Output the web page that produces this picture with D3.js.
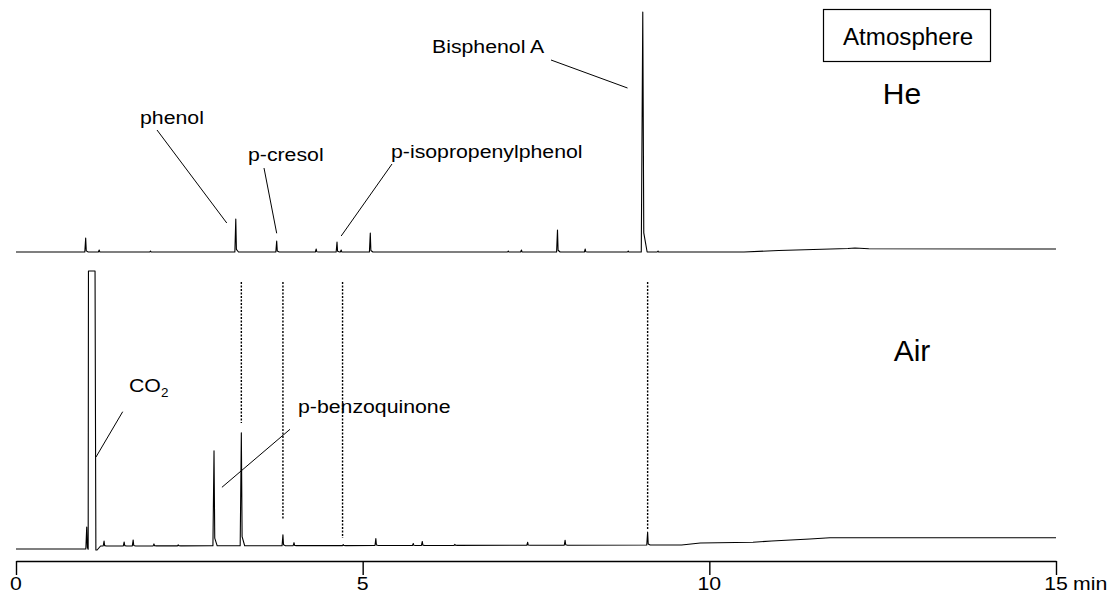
<!DOCTYPE html>
<html>
<head>
<meta charset="utf-8">
<script src="https://cdn.jsdelivr.net/npm/d3@7"></script>
<style>
  body { margin: 0; background: #fff; }
  svg { display: block; }
  text { font-family: "Liberation Sans", Arial, sans-serif; fill: #000; }
</style>
</head>
<body>
<div id="chart"></div>
<script>
// retention time axis (min)
var tickValues = [0, 5, 10, 15];
var tickLabels = ["0", "5", "10", "15"];

// He trace: baseline knots and peaks (time, height)
var heBaseT = [0, 9.6, 10.5, 11.0, 11.5, 12.0, 12.1, 12.3, 15];
var heBaseV = [0, 0, 0, 1.5, 2.5, 3.5, 4, 3.3, 3];
var hePeakT = [1.005, 1.20, 1.94, 3.17, 3.76, 4.33, 4.63, 4.69, 5.11, 7.10, 7.29, 7.81, 8.21, 8.83, 9.04, 9.26];
var hePeakH = [14, 2, 1, 33, 11, 3, 10, 2, 19, 1, 2, 22, 3, 1, 240, 1];

// Air trace
var airBaseT = [0, 1.0, 1.17, 1.22, 9.6, 9.87, 10.63, 10.9, 11.45, 11.74, 15];
var airBaseV = [0, 0, -1, 3, 4, 6, 6.7, 8, 10, 11.3, 11.3];
var airPeakT = [1.02, 1.27, 1.56, 1.69, 1.99, 2.34, 2.856, 3.25, 3.85, 4.01, 4.72, 5.19, 5.73, 5.86, 6.33, 7.38, 7.92, 9.11];
var airPeakH = [22, 5, 4, 6, 2, 1, 95, 113, 11, 3, 1, 7, 2, 4, 1, 3, 5, 13];
// saturated CO2 peak (start, end, clipped height)
var co2 = [1.045, 1.14, 278];

// dotted guides from He peaks down to Air peaks
var guideT = [3.25, 3.85, 4.71, 9.11];
var guideBottom = [126, 29, 11, 19];
var guideTop = 267;

var width = 1112, height = 593;

var svg = d3.select("#chart").append("svg")
    .attr("width", width)
    .attr("height", height);

var x = d3.scaleLinear().domain([0, 15]).range([16, 1056]);
var heY = d3.scaleLinear().domain([0, 240]).range([252, 12]);
var airY = d3.scaleLinear().domain([0, 278]).range([549, 271]);

function buildTrace(baseT, baseV, peakT, peakH, block) {
  var base = d3.scaleLinear().domain(baseT).range(baseV);
  var pts = [], wins = [];
  var bA = block ? block[0] - 0.004 : null, bB = block ? block[1] + 0.012 : null;
  peakT.forEach(function(t, i) {
    var h = peakH[i], k = 1 + h / 300;
    var l = t - 0.012 * k, r = t + 0.035 * k;
    if (block && r > bA && t < bA) r = bA - 0.001;
    wins.push([l, r]);
    pts.push([l, base(l)], [t, base(t) + h], [Math.min(t + 0.008 * k, r), base(t) + h * 0.08], [r, base(r)]);
  });
  if (block) {
    wins.push([bA, bB]);
    pts.push([bA, base(bA)], [block[0], block[2]], [block[1], block[2]], [bB, base(bB)]);
  }
  baseT.forEach(function(t, i) {
    var inside = wins.some(function(w) { return t > w[0] && t < w[1]; });
    if (!inside) pts.push([t, baseV[i]]);
  });
  pts.sort(function(p, q) { return p[0] - q[0]; });
  return pts;
}

var heLine = d3.line().x(function(d) { return x(d[0]); }).y(function(d) { return heY(d[1]); });
var airLine = d3.line().x(function(d) { return x(d[0]); }).y(function(d) { return airY(d[1]); });

svg.append("path")
    .attr("d", heLine(buildTrace(heBaseT, heBaseV, hePeakT, hePeakH)))
    .attr("fill", "none").attr("stroke", "#000").attr("stroke-width", 1.1)
    .attr("stroke-linejoin", "round");

svg.append("path")
    .attr("d", airLine(buildTrace(airBaseT, airBaseV, airPeakT, airPeakH, co2)))
    .attr("fill", "none").attr("stroke", "#000").attr("stroke-width", 1.1)
    .attr("stroke-linejoin", "round");

// dotted guides
svg.selectAll(".guide")
  .data(guideT)
  .enter().append("line")
    .attr("class", "guide")
    .attr("x1", function(d) { return x(d); })
    .attr("x2", function(d) { return x(d); })
    .attr("y1", airY(guideTop))
    .attr("y2", function(d, i) { return airY(guideBottom[i]); })
    .attr("stroke", "#000").attr("stroke-width", 1.4)
    .attr("stroke-dasharray", "2,1.5");

// axis
var axis = svg.append("g")
    .attr("transform", "translate(0,561)")
    .call(d3.axisBottom(x).tickValues(tickValues).tickSize(14).tickSizeOuter(0).tickFormat(""));
axis.select(".domain").attr("stroke-width", 1.6);
axis.selectAll(".tick line").attr("stroke-width", 1.4);

function stretchedText(str, px, py, size, anchor, sx) {
  return svg.append("text")
      .attr("transform", "translate(" + px + "," + py + ") scale(" + (sx || 1.12) + ",1)")
      .attr("text-anchor", anchor || "start")
      .style("font-size", size + "px")
      .text(str);
}

tickValues.forEach(function(v, i) {
  stretchedText(tickLabels[i], x(v), 590, 19, "middle");
});
stretchedText("min", x(15) + 17, 590, 19, "start");

// annotations
function leader(x1, y1, x2, y2) {
  svg.append("line")
      .attr("x1", x1).attr("y1", y1).attr("x2", x2).attr("y2", y2)
      .attr("stroke", "#000").attr("stroke-width", 1);
}

stretchedText("phenol", 140, 124, 19);
leader(157, 130, x(3.04), heY(29));

stretchedText("p-cresol", 248, 161, 19);
leader(264, 168, x(3.76), heY(18.7));

stretchedText("p-isopropenylphenol", 391, 158, 19);
leader(392, 164, x(4.69), heY(16));

stretchedText("Bisphenol A", 432, 53, 19);
leader(551, 60, x(8.82), heY(164));

var co2Label = stretchedText("CO", 129, 392, 19);
co2Label.append("tspan").attr("dy", 5).style("font-size", "12px").text("2");
leader(122.7, 411.7, x(1.154), airY(92));

stretchedText("p-benzoquinone", 298, 413, 19);
leader(290, 429.3, x(2.97), airY(61.7));

// atmosphere box
svg.append("rect")
    .attr("x", 823.5).attr("y", 9.5).attr("width", 167).attr("height", 52)
    .attr("fill", "none").attr("stroke", "#000").attr("stroke-width", 1.2);
stretchedText("Atmosphere", 843, 45, 23, "start", 1.05);

stretchedText("He", 902, 104, 30, "middle", 1.0);
stretchedText("Air", 912, 361, 30, "middle", 1.0);
</script>
</body>
</html>
